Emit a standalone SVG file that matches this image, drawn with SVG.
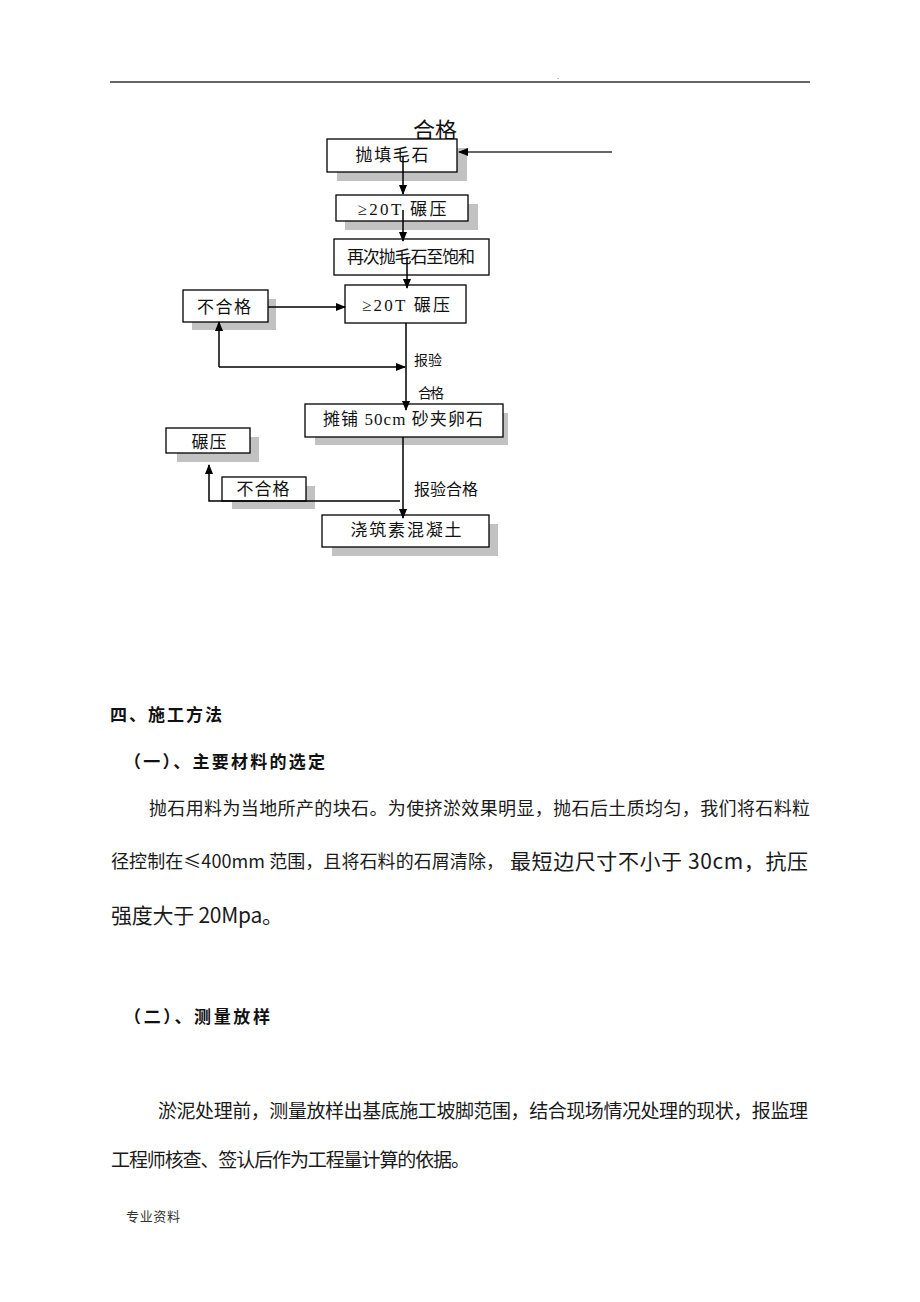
<svg xmlns="http://www.w3.org/2000/svg" width="920" height="1302" viewBox="0 0 920 1302">
<defs>
<marker id="ah" markerWidth="10" markerHeight="10" refX="9" refY="5" orient="auto" markerUnits="userSpaceOnUse">
<path d="M0,1 L10,5 L0,9 Z" fill="#000"/>
</marker>
<style>
.box{fill:#fff;stroke:#000;stroke-width:1.3}
.sh{fill:#c2c2c2}
.bt{font-family:"Liberation Serif","Noto Sans CJK SC",serif;font-size:17px;fill:#111;text-anchor:middle;dominant-baseline:central}
.lb{font-family:"Liberation Sans","Noto Sans CJK SC",sans-serif;fill:#111}
.cn{stroke:#000;stroke-width:1.5;fill:none}
.body{font-family:"Noto Sans CJK SC",sans-serif;fill:#1a1a1a}
.hd{font-family:"Noto Sans CJK SC",sans-serif;font-weight:bold;fill:#111;font-size:17px}
</style>
</defs>
<rect width="920" height="1302" fill="#fff"/>
<g id="header">
<line x1="110" y1="82" x2="810" y2="82" stroke="#333" stroke-width="1.5"/>
<text x="557" y="79" font-family="Liberation Sans,sans-serif" font-size="8" fill="#333">.</text>
</g>
<text class="lb" x="413" y="138" font-size="22" textLength="44">合格</text>
<g id="shadows">
<rect class="sh" x="337" y="148" width="130" height="33"/>
<rect class="sh" x="345" y="204" width="133" height="26"/>
<rect class="sh" x="192" y="299" width="84" height="31"/>
<rect class="sh" x="315" y="413" width="193" height="32"/>
<rect class="sh" x="177" y="437" width="82" height="25"/>
<rect class="sh" x="232" y="486" width="83" height="23"/>
<rect class="sh" x="332" y="524" width="166" height="32"/>
</g>
<g id="n1"><rect class="box" x="327" y="139" width="130" height="33"/><text class="bt" x="392" y="155" textLength="73">抛填毛石</text></g>
<g id="n2"><rect class="box" x="336" y="195" width="132" height="26"/><text class="bt" x="402" y="209" textLength="89">≥20T 碾压</text></g>
<g id="n3"><rect class="box" x="334" y="239" width="155" height="36"/><text class="bt" x="411" y="257" textLength="128">再次抛毛石至饱和</text></g>
<g id="n4"><rect class="box" x="345" y="285" width="121" height="38"/><text class="bt" x="406" y="305" textLength="88">≥20T 碾压</text></g>
<g id="n5"><rect class="box" x="183" y="290" width="85" height="32"/><text class="bt" x="224" y="307" textLength="54">不合格</text></g>
<g id="n6"><rect class="box" x="305" y="404" width="198" height="33"/><text class="bt" x="403" y="419" textLength="160">摊铺 50cm 砂夹卵石</text></g>
<g id="n7"><rect class="box" x="166" y="428" width="84" height="25"/><text class="bt" x="209" y="442" textLength="35">碾压</text></g>
<g id="n8"><rect class="box" x="222" y="477" width="84" height="24"/><text class="bt" x="263" y="489" textLength="53">不合格</text></g>
<g id="n9"><rect class="box" x="322" y="515" width="167" height="32"/><text class="bt" x="406" y="530" textLength="111">浇筑素混凝土</text></g>
<g id="connectors">
<line x1="612" y1="152" x2="459" y2="152" stroke="#333" stroke-width="1.5" marker-end="url(#ah)"/>
<line class="cn" x1="403" y1="156" x2="403" y2="194" marker-end="url(#ah)"/>
<line class="cn" x1="403" y1="210" x2="403" y2="241" marker-end="url(#ah)"/>
<line class="cn" x1="407" y1="257" x2="407" y2="288" marker-end="url(#ah)"/>
<line class="cn" x1="268" y1="307" x2="345" y2="307" marker-end="url(#ah)"/>
<line class="cn" x1="406" y1="323" x2="406" y2="410" marker-end="url(#ah)"/>
<line class="cn" x1="219" y1="367" x2="405" y2="367" marker-end="url(#ah)"/>
<line class="cn" x1="219" y1="367" x2="219" y2="322" marker-end="url(#ah)"/>
<line class="cn" x1="403" y1="437" x2="403" y2="518" marker-end="url(#ah)"/>
<polyline class="cn" points="400,501 209,501 209,465" marker-end="url(#ah)"/>
</g>
<g id="labels">
<text class="lb" x="414" y="365" font-size="14" textLength="28">报验</text>
<text class="lb" x="418" y="398" font-size="14" textLength="26">合格</text>
<text class="lb" x="414" y="495" font-size="16" textLength="64">报验合格</text>
</g>
<g id="text">
<text class="hd" x="110" y="721" textLength="112">四、施工方法</text>
<text class="hd" x="124" y="768" textLength="201">（一）、主要材料的选定</text>
<text class="body" x="149" y="815" font-size="18" textLength="661">抛石用料为当地所产的块石。为使挤淤效果明显，抛石后土质均匀，我们将石料粒</text>
<text class="body" x="111" y="868" font-size="18" textLength="393">径控制在≤400mm 范围，且将石料的石屑清除，</text>
<text class="body" x="510" y="869" font-size="21" textLength="298">最短边尺寸不小于 30cm，抗压</text>
<text class="body" x="111" y="923" font-size="21" textLength="172">强度大于 20Mpa。</text>
<text class="hd" x="124" y="1023" textLength="146">（二）、测量放样</text>
<text class="body" x="158" y="1118" font-size="19" textLength="650">淤泥处理前，测量放样出基底施工坡脚范围，结合现场情况处理的现状，报监理</text>
<text class="body" x="111" y="1167" font-size="19" textLength="359">工程师核查、签认后作为工程量计算的依据。</text>
<text x="126" y="1221" font-family="Noto Sans CJK SC,sans-serif" font-size="13" fill="#333" textLength="54">专业资料</text>
</g>
</svg>
